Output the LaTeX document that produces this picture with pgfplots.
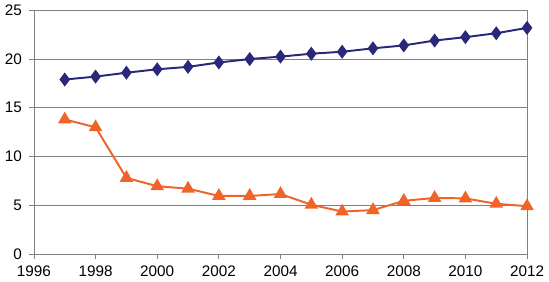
\documentclass[border=0pt]{standalone}
\usepackage{pgfplots}
\pgfplotsset{compat=1.18}
\usepackage{fontspec}
\setmainfont{Liberation Sans}
\definecolor{navy}{RGB}{42,40,122}
\definecolor{org}{RGB}{240,100,40}
\definecolor{axgray}{RGB}{128,128,128}
\begin{document}
\fontsize{15bp}{18bp}\selectfont
\begin{tikzpicture}
\begin{axis}[
  scale only axis,
  width=500bp, height=247bp,
  xmin=1996, xmax=2012, ymin=0, ymax=25,
  xtick={1996,1998,...,2012},
  ytick={0,5,...,25},
  ymajorgrids,
  grid style={axgray, line width=0.8pt},
  axis line style={axgray, line width=0.8pt},
  tick style={axgray, line width=0.8pt},
  tick align=outside,
  major tick length=5bp,
  xtick pos=bottom, ytick pos=left,
  /pgf/number format/assume math mode=true,
  /pgf/number format/1000 sep={},
  tick label style={font=\fontsize{15.5bp}{18bp}\selectfont, text=black},
  yticklabel style={xshift=-2bp},
  xticklabel style={yshift=-2bp},
]
\addplot[navy, line width=2pt, mark=diamond*, mark size=5.5bp, mark options={fill=navy}] coordinates {
(1997,17.9) (1998,18.2) (1999,18.6) (2000,18.95) (2001,19.2) (2002,19.65) (2003,20.0) (2004,20.25) (2005,20.55) (2006,20.75) (2007,21.1) (2008,21.4) (2009,21.9) (2010,22.25) (2011,22.65) (2012,23.2)
};
\addplot[org, line width=2pt, mark=triangle*, mark size=6bp, mark options={fill=org}] coordinates {
(1997,13.8) (1998,13.0) (1999,7.8) (2000,6.95) (2001,6.7) (2002,5.95) (2003,5.95) (2004,6.15) (2005,5.05) (2006,4.35) (2007,4.5) (2008,5.45) (2009,5.75) (2010,5.7) (2011,5.15) (2012,4.9)
};
\end{axis}
\end{tikzpicture}
\end{document}
